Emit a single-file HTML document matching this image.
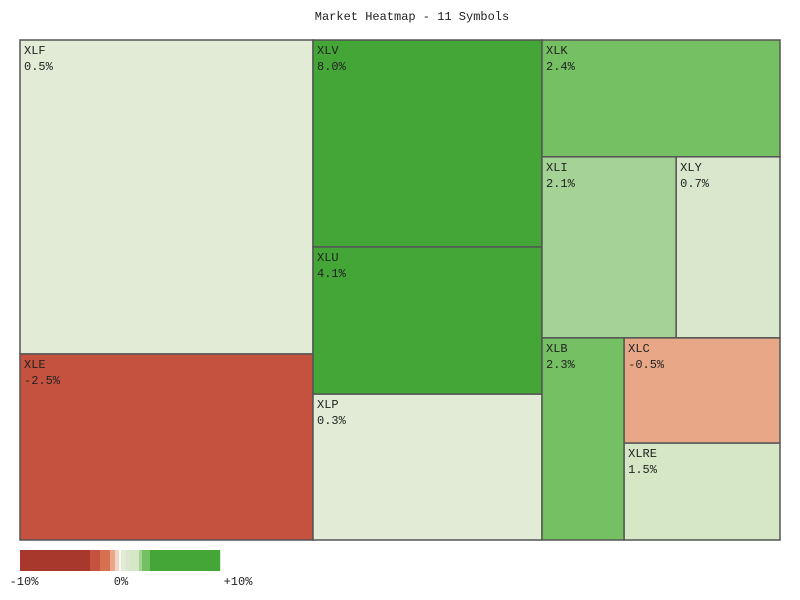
<!DOCTYPE html>
<html><head><meta charset="utf-8"><style>
body{margin:0;background:#fff;}
svg{display:block;font-family:"Liberation Mono","DejaVu Sans Mono",monospace;}
</style></head><body>
<svg id="chart" width="800" height="600" viewBox="0 0 800 600">
<rect width="800" height="600" fill="#fff"/>
<text x="412" y="20" text-anchor="middle" font-size="12" fill="#222">Market Heatmap - 11 Symbols</text>
<g id="cells"></g>
<g id="legend"></g>
</svg>
<script>
const symbols = ["XLF","XLE","XLV","XLU","XLP","XLK","XLI","XLY","XLB","XLC","XLRE"];
const changes = [0.5,-2.5,8.0,4.1,0.3,2.4,2.1,0.7,2.3,-0.5,1.5];
const weights = [92.0,54.5,47.4,33.7,33.4,27.8,24.3,18.8,16.6,16.4,15.1];
const legendValues = [-10,0,10];
const legendTicks = ["-10%","0%","+10%"];

function color(v){
  if(v>=3) return "#44a637";
  if(v>=2.2) return "#74c063";
  if(v>=1.9) return "#a5d396";
  if(v>=1) return "#d5e7c5";
  if(v>=0.6) return "#d9e8cc";
  if(v>=0) return "#e1ebd5";
  if(v>=-1) return "#e8a888";
  if(v>=-2) return "#d6714f";
  if(v>=-3) return "#c5523f";
  return "#a8372c";
}
const tree = ["H",[["V",[0,1]],["V",[2,3,4]],["V",[5,["H",[6,7]],["H",[8,["V",[9,10]]]]]]]];
function sum(n){return typeof n==="number"?weights[n]:n[1].reduce((a,c)=>a+sum(c),0);}
const NS="http://www.w3.org/2000/svg";
const g=document.getElementById("cells");
function layout(n,x,y,w,h){
  if(typeof n==="number"){
    const r=document.createElementNS(NS,"rect");
    r.setAttribute("x",x);r.setAttribute("y",y);r.setAttribute("width",w);r.setAttribute("height",h);
    r.setAttribute("fill",color(changes[n]));r.setAttribute("stroke","#555");r.setAttribute("stroke-width","1.5");
    
    
    g.appendChild(r);
    const t1=document.createElementNS(NS,"text");
    t1.setAttribute("x",x+4);t1.setAttribute("y",y+14);t1.setAttribute("font-size","12");t1.setAttribute("fill","#222");
    t1.textContent=symbols[n];
    
    
    g.appendChild(t1);
    const t2=document.createElementNS(NS,"text");
    t2.setAttribute("x",x+4);t2.setAttribute("y",y+30);t2.setAttribute("font-size","12");t2.setAttribute("fill","#222");
    t2.textContent=changes[n].toFixed(1)+"%";
    
    
    g.appendChild(t2);
    return;
  }
  const tot=sum(n);let off=0;
  n[1].forEach(c=>{
    const f=sum(c)/tot;
    if(n[0]==="H"){layout(c,x+off,y,w*f,h);off+=w*f;}
    else{layout(c,x,y+off,w,h*f);off+=h*f;}
  });
}
layout(tree,20,40,760,500);

const lg=document.getElementById("legend");
const lx=v=>20+(v+10)*10;
for(let i=0;i<200;i++){
  const v=-10+(i+0.5)/10;
  const r=document.createElementNS(NS,"rect");
  r.setAttribute("x",20+i);r.setAttribute("y",550);r.setAttribute("width",1.2);r.setAttribute("height",21);
  let c=color(v);
  if(v>-0.5&&v<0) c="#f0d6c6";
  if(Math.abs(v)<0.15) c="#f8f8f2";
  r.setAttribute("fill",c);
  
  
  lg.appendChild(r);
}
legendValues.forEach((v,i)=>{
  const t=document.createElementNS(NS,"text");
  t.setAttribute("x",lx(v)+(v<0?4:v>0?18:1));t.setAttribute("y",585);t.setAttribute("font-size","12");t.setAttribute("text-anchor","middle");t.setAttribute("fill","#222");
  t.textContent=legendTicks[i];
  
  
  lg.appendChild(t);
});
</script>
</body></html>
